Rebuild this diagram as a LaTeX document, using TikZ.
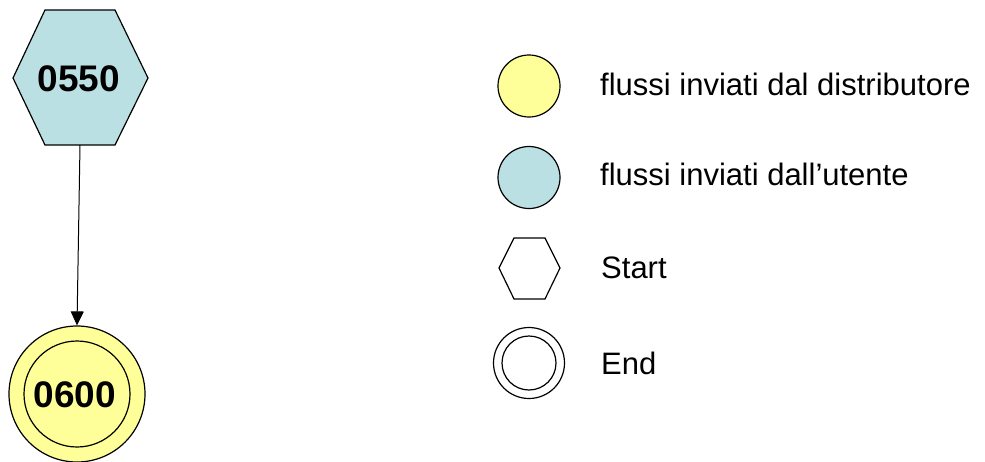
\documentclass[tikz,border=0pt]{standalone}
\usepackage{fontspec}
\setmainfont{Liberation Sans}
\usetikzlibrary{arrows.meta}
\definecolor{endyellow}{HTML}{FFFF99}
\definecolor{userblue}{HTML}{BBE0E3}
\tikzset{
  shapeline/.style={draw=black, line width=1.2pt},
  numlabel/.style={inner sep=0pt, anchor=base, font=\fontsize{37}{40}\selectfont\bfseries},
  legendtext/.style={inner sep=0pt, anchor=base west, font=\fontsize{31}{34}\selectfont},
  flow/.style={draw=black, line width=1pt, -{Triangle[width=13pt,length=14pt]}}
}
\begin{document}
\begin{tikzpicture}[x=1pt,y=-1pt]
\useasboundingbox (0,0) rectangle (985,461);
% start hexagon 0550
\draw[shapeline, fill=userblue] (13,78) -- (45,10) -- (115,10) -- (148,78) -- (115,145) -- (45,145) -- cycle;
\node[numlabel] (n0550) at (79,91.5) {0550};
\coordinate (hb) at (80,145);
% end circle 0600
\node[shapeline, circle, fill=endyellow, minimum size=136pt, inner sep=0pt] (e) at (77,394) {};
\draw[shapeline] (e.center) circle[radius=53];
\node[numlabel] (n0600) at (75,407) {0600};
% connector
\draw[flow] (hb) -- (e.north);
% legend
\node[shapeline, circle, fill=endyellow, minimum size=62pt, inner sep=0pt] (ly) at (529,86) {};
\node[legendtext] (ty) at (600,95) {flussi inviati dal distributore};
\node[shapeline, circle, fill=userblue, minimum size=62pt, inner sep=0pt] (lb) at (529,177.5) {};
\node[legendtext] (tb) at (600,185) {flussi inviati dall’utente};
\draw[shapeline] (499,268) -- (514,238) -- (545,238) -- (560,268) -- (545,299) -- (514,299) -- cycle;
\coordinate (lh) at (529.5,268);
\node[legendtext] (ts) at (601,278) {Start};
\node[shapeline, circle, minimum size=71pt, inner sep=0pt] (le) at (529,363) {};
\draw[shapeline] (le.center) circle[radius=27];
\node[legendtext] (te) at (601,374) {End};
\end{tikzpicture}
\end{document}
